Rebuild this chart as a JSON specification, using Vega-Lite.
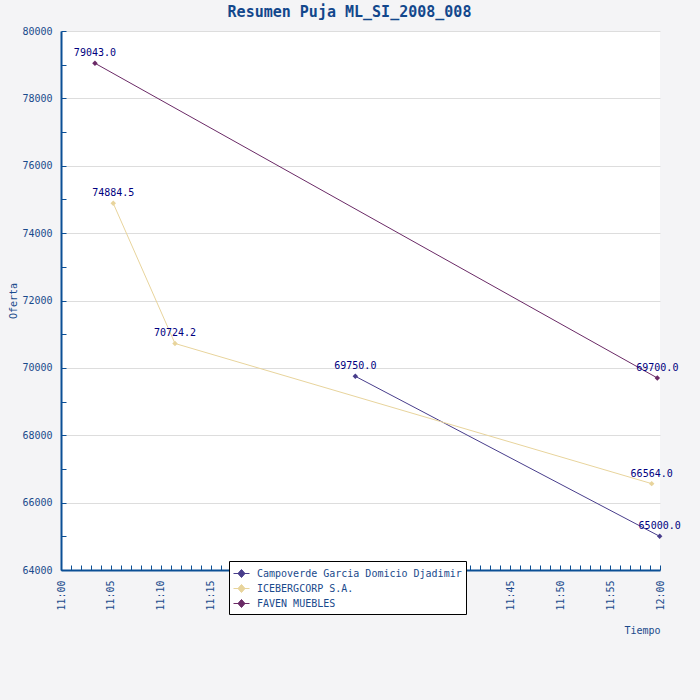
{
  "$schema": "https://vega.github.io/schema/vega-lite/v6.json",
  "width": 599,
  "height": 539,
  "autosize": {"type": "none"},
  "padding": {"left": 61, "top": 31, "right": 40, "bottom": 130},
  "background": "#f4f4f6",
  "title": {
    "text": "Resumen Puja ML_SI_2008_008",
    "font": "DejaVu Sans Mono",
    "fontSize": 15,
    "fontWeight": "bold",
    "color": "#12478c",
    "anchor": "middle",
    "dx": -11,
    "offset": -6,
    "baseline": "alphabetic"
  },
  "config": {
    "view": {"fill": "white", "stroke": null},
    "font": "DejaVu Sans Mono"
  },
  "data": {
    "values": [
      {"postor": "Campoverde Garcia Domicio Djadimir", "tiempo": "2008-01-01T11:29:29", "oferta": 69750.0},
      {"postor": "Campoverde Garcia Domicio Djadimir", "tiempo": "2008-01-01T11:59:58", "oferta": 65000.0},
      {"postor": "ICEBERGCORP S.A.", "tiempo": "2008-01-01T11:05:14", "oferta": 74884.5},
      {"postor": "ICEBERGCORP S.A.", "tiempo": "2008-01-01T11:11:25", "oferta": 70724.2},
      {"postor": "ICEBERGCORP S.A.", "tiempo": "2008-01-01T11:59:10", "oferta": 66564.0},
      {"postor": "FAVEN MUEBLES", "tiempo": "2008-01-01T11:03:24", "oferta": 79043.0},
      {"postor": "FAVEN MUEBLES", "tiempo": "2008-01-01T11:59:44", "oferta": 69700.0}
    ]
  },
  "encoding": {
    "x": {
      "field": "tiempo",
      "type": "temporal",
      "title": "Tiempo",
      "scale": {
        "domain": [
          {"year": 2008, "month": 1, "date": 1, "hours": 11, "minutes": 0},
          {"year": 2008, "month": 1, "date": 1, "hours": 12, "minutes": 0}
        ]
      },
      "axis": {
        "format": "%H:%M",
        "tickCount": 60,
        "labelExpr": "minutes(datum.value) % 5 === 0 ? datum.label : ''",
        "labelAngle": 270,
        "labelOverlap": false,
        "grid": false,
        "tickSize": -5,
        "labelPadding": 15,
        "domainColor": "#0b4f95",
        "domainWidth": 2,
        "tickColor": "#0b4f95",
        "labelColor": "#1a4a8c",
        "labelFont": "DejaVu Sans Mono",
        "labelFontSize": 10,
        "titleAnchor": "end",
        "titleFont": "DejaVu Sans Mono",
        "titleFontWeight": "normal",
        "titleFontSize": 10,
        "titleColor": "#1a4a8c",
        "titlePadding": 15
      }
    },
    "y": {
      "field": "oferta",
      "type": "quantitative",
      "title": "Oferta",
      "scale": {"domain": [64000, 80000], "nice": false, "zero": false},
      "axis": {
        "values": [64000, 65000, 66000, 67000, 68000, 69000, 70000, 71000, 72000, 73000, 74000, 75000, 76000, 77000, 78000, 79000, 80000],
        "format": "d",
        "labelExpr": "datum.value % 2000 === 0 ? datum.label : ''",
        "gridColor": "#dddddd",
        "gridOpacity": {"condition": {"test": "datum.value % 2000 === 0", "value": 1}, "value": 0},
        "tickSize": -5,
        "labelPadding": 14,
        "labelOverlap": false,
        "domainColor": "#0b4f95",
        "domainWidth": 2,
        "tickColor": "#0b4f95",
        "labelColor": "#1a4a8c",
        "labelFont": "DejaVu Sans Mono",
        "labelFontSize": 10,
        "titleFont": "DejaVu Sans Mono",
        "titleFontWeight": "normal",
        "titleFontSize": 10,
        "titleColor": "#1a4a8c",
        "titlePadding": 3
      }
    },
    "color": {
      "field": "postor",
      "type": "nominal",
      "scale": {
        "domain": ["Campoverde Garcia Domicio Djadimir", "ICEBERGCORP S.A.", "FAVEN MUEBLES"],
        "range": ["#483d8b", "#e8d49c", "#6a2a66"]
      },
      "legend": {
        "orient": "none",
        "legendX": 168,
        "legendY": 530,
        "title": null,
        "fillColor": "white",
        "strokeColor": "black",
        "padding": 4,
        "symbolType": "M-1,0H1M0,-0.5L0.44,0L0,0.5L-0.44,0Z",
        "symbolSize": 256,
        "symbolStrokeWidth": 1,
        "labelFont": "DejaVu Sans Mono",
        "labelFontSize": 10,
        "labelColor": "#1a4a8c",
        "labelOffset": 7,
        "labelLimit": 400,
        "rowPadding": 0,
        "encode": {
          "symbols": {
            "update": {
              "fill": {"scale": "color", "field": "value"},
              "stroke": {"scale": "color", "field": "value"},
              "opacity": {"value": 1}
            }
          }
        }
      }
    }
  },
  "layer": [
    {"mark": {"type": "line", "strokeWidth": 1}, "encoding": {}},
    {"mark": {"type": "point", "shape": "diamond", "filled": true, "size": 30, "opacity": 1}},
    {
      "mark": {"type": "text", "dy": -10, "fontSize": 10, "font": "DejaVu Sans Mono"},
      "encoding": {
        "text": {"field": "oferta", "type": "quantitative", "format": ".1f"},
        "color": {"value": "#000080"}
      }
    }
  ]
}
